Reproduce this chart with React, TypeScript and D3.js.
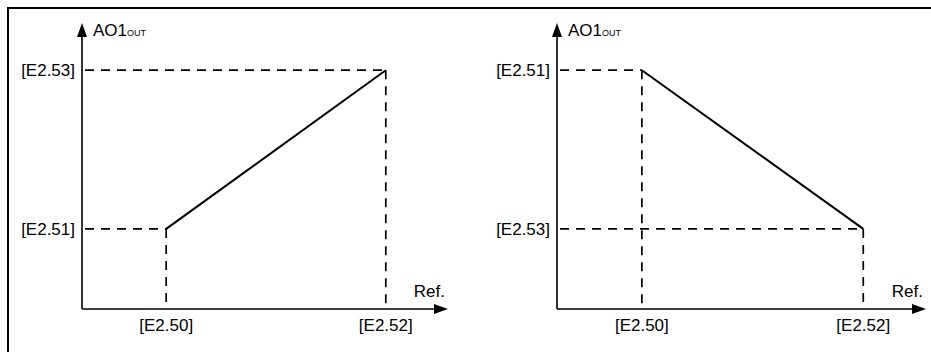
import React, { useRef, useEffect } from 'react'
import * as d3 from 'd3'

// data (axis units 0..100)
const xTickValues = [23, 83]
const xTickLabels = ['[E2.50]', '[E2.52]']
const yLevels = [28, 83.5]
const leftYLabels = ['[E2.51]', '[E2.53]']
const rightYLabels = ['[E2.53]', '[E2.51]']
const leftSeries = [28, 83.5]
const rightSeries = [83.5, 28]
const yTitle = 'AO1'
const yTitleSub = 'OUT'
const xTitle = 'Ref.'

const panels = [
  { x0: 82, x1: 448, yLabels: leftYLabels, values: leftSeries },
  { x0: 557, x1: 926, yLabels: rightYLabels, values: rightSeries }
]

const W = 931
const H = 352
const Y0 = 309
const Y1 = 23
const FONT = '"Liberation Sans", Arial, sans-serif'

const App = () => {
  const svgRef = useRef(null)

  useEffect(() => {
    const svg = d3.select(svgRef.current)
    svg.selectAll('*').remove()

    // outer frame (right and bottom run off the picture)
    svg
      .append('path')
      .attr('d', `M8,${H + 5}V8H${W + 5}`)
      .attr('fill', 'none')
      .attr('stroke', '#000')
      .attr('stroke-width', 2)

    panels.forEach(p => {
      const x = d3.scaleLinear().domain([0, 100]).range([p.x0, p.x1])
      const y = d3.scaleLinear().domain([0, 100]).range([Y0, Y1])
      const g = svg.append('g')

      // dashed guides
      const dash = (x1, y1, x2, y2) =>
        g
          .append('line')
          .attr('x1', x1)
          .attr('y1', y1)
          .attr('x2', x2)
          .attr('y2', y2)
          .attr('stroke', '#000')
          .attr('stroke-width', 1.7)
          .attr('stroke-dasharray', '9,7')

      const pts = xTickValues.map((v, i) => [v, p.values[i]])
      pts.forEach(([vx, vy]) => {
        dash(x(0) + 3, y(vy), x(vx), y(vy))
        dash(x(vx), y(vy), x(vx), y(0))
      })

      // axes
      g.append('line')
        .attr('x1', x(0))
        .attr('y1', y(0))
        .attr('x2', x(100) - 12)
        .attr('y2', y(0))
        .attr('stroke', '#000')
        .attr('stroke-width', 1.6)
      g.append('line')
        .attr('x1', x(0))
        .attr('y1', y(0))
        .attr('x2', x(0))
        .attr('y2', y(100) + 12)
        .attr('stroke', '#000')
        .attr('stroke-width', 1.6)

      // arrow heads
      g.append('path')
        .attr('d', `M${x(100)},${y(0)}L${x(100) - 14},${y(0) - 5}L${x(100) - 14},${y(0) + 5}Z`)
        .attr('fill', '#000')
      g.append('path')
        .attr('d', `M${x(0)},${y(100)}L${x(0) - 5},${y(100) + 14}L${x(0) + 5},${y(100) + 14}Z`)
        .attr('fill', '#000')

      // the characteristic line
      const line = d3
        .line()
        .x(d => x(d[0]))
        .y(d => y(d[1]))
      g.append('path')
        .attr('d', line(pts))
        .attr('fill', 'none')
        .attr('stroke', '#000')
        .attr('stroke-width', 2)

      // tick labels
      g.selectAll('.xl')
        .data(xTickLabels)
        .enter()
        .append('text')
        .attr('x', (d, i) => x(xTickValues[i]))
        .attr('y', y(0) + 22)
        .attr('text-anchor', 'middle')
        .attr('font-family', FONT)
        .attr('font-size', 17)
        .text(d => d)

      g.selectAll('.yl')
        .data(p.yLabels)
        .enter()
        .append('text')
        .attr('x', x(0) - 7)
        .attr('y', (d, i) => y(yLevels[i]) + 6)
        .attr('text-anchor', 'end')
        .attr('font-family', FONT)
        .attr('font-size', 17)
        .text(d => d)

      // titles
      const t = g
        .append('text')
        .attr('x', x(0) + 11)
        .attr('y', 36)
        .attr('font-family', FONT)
        .attr('font-size', 17)
      t.append('tspan').text(yTitle)
      t.append('tspan').attr('font-size', 9).text(yTitleSub)

      g.append('text')
        .attr('x', x(100) - 3)
        .attr('y', y(0) - 12)
        .attr('text-anchor', 'end')
        .attr('font-family', FONT)
        .attr('font-size', 17)
        .text(xTitle)
    })
  }, [])

  return (
    <svg
      ref={svgRef}
      width={W}
      height={H}
      style={{ position: 'absolute', left: 0, top: 0, background: '#fff' }}
    />
  )
}

export default App
